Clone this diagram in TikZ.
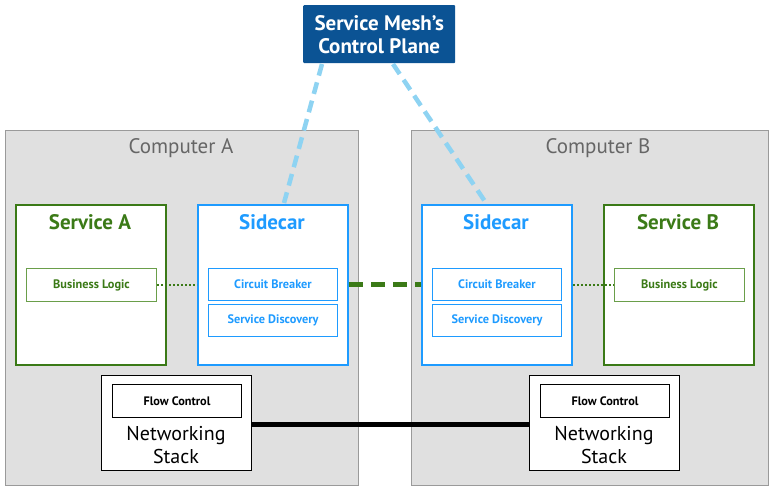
\documentclass[tikz,border=0pt]{standalone}
\usepackage{fontspec}
\setmainfont{PT Sans}
\usetikzlibrary{positioning}
\definecolor{cpblue}{HTML}{0B5394}
\definecolor{compfill}{HTML}{E0E0E0}
\definecolor{compdraw}{HTML}{9A9A9A}
\definecolor{compfont}{HTML}{666666}
\definecolor{svcgreen}{HTML}{3B7A17}
\definecolor{lgreen}{HTML}{6A9E4A}
\definecolor{scblue}{HTML}{1E9BFF}
\definecolor{lblue}{HTML}{8ED3F2}
\tikzset{
  px/.style={x=1pt,y=-1pt},
  computer/.style={draw=compdraw,fill=compfill,line width=1pt,minimum width=#1,minimum height=355pt,anchor=north west,inner sep=0pt},
  comptitle/.style={text=compfont,font=\fontsize{21}{24}\selectfont},
  svcbox/.style={draw=svcgreen,fill=white,line width=2pt,minimum width=150pt,minimum height=160pt,anchor=north west,inner sep=0pt},
  scbox/.style={draw=scblue,fill=white,line width=2pt,minimum width=150pt,minimum height=160pt,anchor=north west,inner sep=0pt},
  svctitle/.style={text=svcgreen,font=\bfseries\fontsize{21}{24}\selectfont},
  sctitle/.style={text=scblue,font=\bfseries\fontsize{21}{24}\selectfont},
  blbox/.style={draw=lgreen,line width=1pt,text=svcgreen,font=\bfseries\fontsize{12.3}{14}\selectfont,minimum width=130pt,minimum height=33pt,anchor=north west,inner sep=0pt},
  subbox/.style={draw=scblue,line width=1pt,text=scblue,font=\bfseries\fontsize{12.3}{14}\selectfont,minimum width=129pt,minimum height=32pt,anchor=north west,inner sep=0pt},
  netbox/.style={draw=black,fill=white,line width=1pt,minimum width=150pt,minimum height=95pt,anchor=north west,inner sep=0pt},
  fcbox/.style={draw=black,line width=1pt,font=\bfseries\fontsize{12.3}{14}\selectfont,minimum width=129pt,minimum height=33pt,anchor=north west,inner sep=0pt},
  nettext/.style={align=center,font=\fontsize{20}{23}\selectfont},
  cpbox/.style={fill=cpblue,text=white,align=center,font=\bfseries\fontsize{21}{23}\selectfont,minimum width=152pt,minimum height=58pt,anchor=north west,inner sep=0pt,rounded corners=1pt},
  cpline/.style={draw=lblue,line width=4.5pt,dash pattern=on 12pt off 7pt},
  sidelink/.style={draw=svcgreen,line width=4.5pt,dash pattern=on 14pt off 8pt},
  dotlink/.style={draw=svcgreen,line width=1.2pt,dash pattern=on 2pt off 2pt},
  netlink/.style={draw=black,line width=5pt},
}
\begin{document}
\begin{tikzpicture}[px]
\useasboundingbox (0,0) rectangle (774,490);
% computers
\node[computer=353pt] (compA) at (5,130) {};
\node[computer=357pt] (compB) at (411,130) {};
\node[comptitle] (compAt) at (181,148) {Computer A};
\node[comptitle] (compBt) at (598,148) {Computer B};
% control plane
\node[cpbox] (cp) at (303,5) {Service Mesh’s\\Control Plane};
% services
\node[svcbox] (svcA) at (15,204) {};
\node[svctitle] (svcAt) at (90,222) {Service A};
\node[blbox] (blA) at (26,268) {Business Logic};
\node[svcbox] (svcB) at (603,204) {};
\node[svctitle] (svcBt) at (678,222) {Service B};
\node[blbox] (blB) at (614,268) {Business Logic};
% sidecars
\node[scbox] (scA) at (197,204) {};
\node[sctitle] (scAt) at (272,222) {Sidecar};
\node[subbox] (cbA) at (208,268) {Circuit Breaker};
\node[subbox] (sdA) at (208,304) {Service Discovery};
\node[scbox] (scB) at (421,204) {};
\node[sctitle] (scBt) at (496,222) {Sidecar};
\node[subbox] (cbB) at (432,268) {Circuit Breaker};
\node[subbox] (sdB) at (432,304) {Service Discovery};
% networking stacks
\node[netbox] (netA) at (101,375) {};
\node[fcbox] (fcA) at (112,384) {Flow Control};
\node[nettext] (netAt) at (176,445) {Networking\\Stack};
\node[netbox] (netB) at (529,375) {};
\node[fcbox] (fcB) at (540,384) {Flow Control};
\node[nettext] (netBt) at (604,445) {Networking\\Stack};
% connectors
\coordinate (cpA) at (322,64);
\coordinate (cpB) at (393,64);
\coordinate (scAtop) at (284,203);
\coordinate (scBtop) at (486,203);
\draw[cpline] (cpA) -- (scAtop);
\draw[cpline] (cpB) -- (scBtop);
\draw[sidelink] (scA.east |- cbA.east) -- (scB.west |- cbB.west);
\draw[dotlink] (blA.east) -- (scA.west |- blA.east);
\draw[dotlink] (scB.east |- blB.west) -- (blB.west);
\draw[netlink] (netA.east |- 0,424) -- (netB.west |- 0,424);
\end{tikzpicture}
\end{document}
